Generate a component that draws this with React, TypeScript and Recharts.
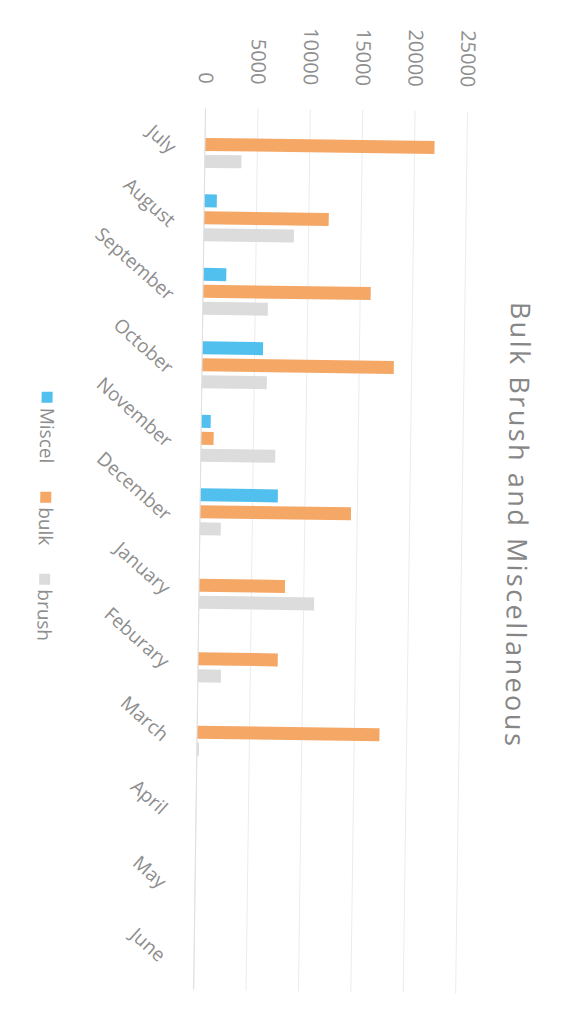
import React from 'react';
import { BarChart, Bar, XAxis, YAxis, CartesianGrid } from 'recharts';

const months = ['July', 'August', 'September', 'October', 'November', 'December', 'January', 'Feburary', 'March', 'April', 'May', 'June'];
const miscel = [0, 1200, 2200, 5800, 900, 7400, 0, 0, 0, 0, 0, 0];
const bulk = [21900, 11900, 16000, 18300, 1200, 14400, 8200, 7600, 17400, 0, 0, 0];
const brush = [3500, 8600, 6200, 6200, 7100, 2000, 11000, 2200, 200, 0, 0, 0];
const valueTicks = [0, 5000, 10000, 15000, 20000, 25000];

const seriesNames = ['Miscel', 'bulk', 'brush'];
const seriesKeys = ['miscel', 'bulk', 'brush'];
const seriesColors = ['#52c0ef', '#f5a766', '#dcdcdc'];

const data = months.map((month, i) => ({
  month,
  miscel: miscel[i],
  bulk: bulk[i],
  brush: brush[i],
}));

const textGray = '#8e8e8e';

export default function App() {
  return (
    <div style={{ position: 'fixed', left: 0, top: 0, width: 572, height: 1036, overflow: 'hidden', background: '#fff' }}>
      {/* the scan is an ordinary column chart turned a quarter clockwise (plus a slight tilt) */}
      <div
        style={{
          position: 'absolute',
          left: -232,
          top: 232,
          width: 1036,
          height: 572,
          transform: 'rotate(90.77deg)',
          transformOrigin: '50% 50%',
          background: '#fff',
          fontFamily: '"Open Sans", sans-serif',
        }}
      >
        <div
          style={{
            position: 'absolute',
            top: 40,
            left: 0,
            width: 1036,
            paddingLeft: 8,
            boxSizing: 'border-box',
            textAlign: 'center',
            fontSize: 27,
            lineHeight: '27px',
            letterSpacing: 2.5,
            color: '#868686',
            whiteSpace: 'nowrap',
          }}
        >
          Bulk Brush and Miscellaneous
        </div>

        <div style={{ position: 'absolute', left: 0, top: 0 }}>
          <BarChart
            width={1036}
            height={572}
            data={data}
            margin={{ top: 110, right: 45, bottom: 0, left: 0 }}
            barSize={13}
            barGap={4}
          >
            <CartesianGrid vertical={false} stroke="#ececec" />
            <XAxis
              dataKey="month"
              height={200}
              interval={0}
              tickLine={false}
              tickSize={0}
              tickMargin={27}
              axisLine={{ stroke: '#e0e0e0' }}
              angle={-49}
              textAnchor="end"
              tick={{ fill: textGray, fontSize: 19 }}
            />
            <YAxis
              type="number"
              domain={[0, 25000]}
              ticks={valueTicks}
              width={109}
              axisLine={false}
              tickLine={false}
              tickSize={0}
              tickMargin={24}
              tick={{ fill: textGray, fontSize: 20 }}
            />
            {seriesKeys.map((k, i) => (
              <Bar key={k} dataKey={k} name={seriesNames[i]} fill={seriesColors[i]} isAnimationActive={false} />
            ))}
          </BarChart>
        </div>

        <div
          style={{
            position: 'absolute',
            left: 395,
            top: 512,
            height: 28,
            display: 'flex',
            alignItems: 'center',
            fontSize: 19,
            color: textGray,
            whiteSpace: 'nowrap',
          }}
        >
          {seriesNames.map((n, i) => (
            <div key={n} style={{ display: 'flex', alignItems: 'center', marginRight: 28 }}>
              <span style={{ display: 'inline-block', width: 11, height: 11, background: seriesColors[i], marginRight: 5 }} />
              <span>{n}</span>
            </div>
          ))}
        </div>
      </div>
    </div>
  );
}
